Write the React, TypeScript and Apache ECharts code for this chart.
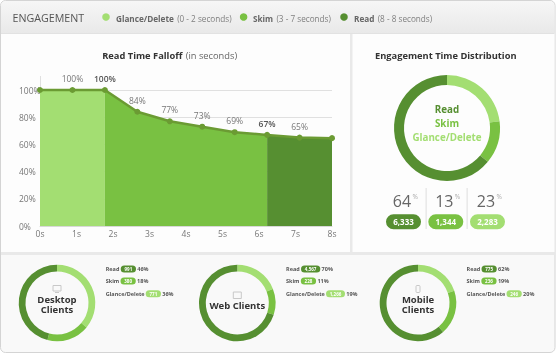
import React, { useEffect, useRef } from "react";
import * as echarts from "echarts";

const LIGHT = "#a3de72";
const MID = "#79c142";
const DARK = "#568f31";
const FONT = "'Open Sans', sans-serif";

const pointSlots = ["p0", "p1", "p2", "p3", "p4", "p5", "p6", "p7", "p8", "p9"];
const falloffValues = [100, 100, 100, 84, 77, 73, 69, 67, 65, 64.6];
const falloffLabels = ["", "100%", "100%", "84%", "77%", "73%", "69%", "67%", "65%", ""];
const boldLabelIndexes = [2, 7];
const secondLabels = ["0s", "1s", "2s", "3s", "4s", "5s", "6s", "7s", "8s"];
const yTicks = [0, 20, 40, 60, 80, 100];

const legendNames = ["Glance/Delete", "Skim", "Read"];
const legendRanges = ["(0 - 2 seconds)", "(3 - 7 seconds)", "(8 - 8 seconds)"];

const totalShares = [23, 13, 64];
const statPercents = ["64", "13", "23"];
const statCounts = ["6,333", "1,344", "2,283"];

const clientNames = ["Desktop\nClients", "Web Clients", "Mobile\nClients"];
const desktopShares = [36, 18, 46];
const webShares = [19, 11, 70];
const mobileShares = [20, 19, 62];
const desktopCounts = ["991", "380", "771"];
const webCounts = ["4,567", "228", "1,266"];
const mobileCounts = ["775", "236", "246"];
const desktopPct = ["46%", "18%", "36%"];
const webPct = ["70%", "11%", "19%"];
const mobilePct = ["62%", "19%", "20%"];
const rowNames = ["Read", "Skim", "Glance/Delete"];

const txt = (text: string, x: number, y: number, size: number, fill: string, weight: any = 400, align = "left", lineHeight?: number) => ({
  type: "text",
  x,
  y,
  z: 5,
  silent: true,
  style: { text, x: 0, y: 0, fontFamily: FONT, fontSize: size, fontWeight: weight, fill, align, verticalAlign: "middle", lineHeight },
});
const box = (x: number, y: number, width: number, height: number, fill: string, r: any = 0, z = -5, stroke?: string) => ({
  type: "rect",
  z,
  silent: true,
  shape: { x, y, width, height, r },
  style: { fill, stroke, lineWidth: stroke ? 1 : 0 },
});
const pill = (x: number, y: number, w: number, h: number, fill: string, label: string, size: number) => [
  box(x, y, w, h, fill, h / 2, 4),
  txt(label, x + w / 2, y + h / 2, size, "#ffffff", 700, "center"),
];
const donut = (center: number[], radius: string[] | number[], shares: number[]) => ({
  type: "pie",
  silent: true,
  center,
  radius,
  startAngle: 90,
  clockwise: true,
  label: { show: false },
  labelLine: { show: false },
  data: shares.map((value, i) => ({ value, itemStyle: { color: [LIGHT, MID, DARK][i] } })),
});
const region = (from: number, to: number, color: string) => ({
  type: "line",
  silent: true,
  symbol: "none",
  lineStyle: { width: 0 },
  areaStyle: { color, opacity: 1 },
  z: 2,
  data: falloffValues.map((v, i) => (i >= from && i <= to ? v : null)),
});

export default function App() {
  const ref = useRef<HTMLDivElement>(null);
  useEffect(() => {
    const chart = echarts.init(ref.current!, undefined, { renderer: "svg" });
    const g: any[] = [];
    // panels
    g.push(box(0, 0, 556, 353, "#ffffff", 0, -10));
    g.push(box(0.5, 0.5, 554.5, 352, "#f9f9f9", 5, -9, "#d4d4d4"));
    g.push({
      type: "rect", z: -8, silent: true,
      shape: { x: 1, y: 1, width: 553.5, height: 32, r: [5, 5, 0, 0] },
      style: { fill: new echarts.graphic.LinearGradient(0, 0, 0, 1, [{ offset: 0, color: "#f6f6f6" }, { offset: 1, color: "#e9e9e9" }]) },
    });
    g.push(box(1, 33, 553.5, 219, "#fdfdfd", 0, -8));
    g.push(box(350, 33, 2.5, 219, "#e9e9e9", 0, -7));
    g.push(box(1, 33, 553.5, 1, "#e2e2e2", 0, -7));
    g.push(box(1, 252, 553.5, 3, "#e9e9e9", 0, -7));

    // header legend
    g.push(txt("ENGAGEMENT", 12.5, 18, 10.7, "#555555"));
    const legendDotX = [106, 243.6, 344];
    const legendNameX = [116, 253, 354];
    legendNames.forEach((name, i) => {
      const color = [LIGHT, MID, DARK][i];
      g.push({ type: "circle", z: 5, silent: true, shape: { cx: legendDotX[i], cy: 17, r: 3.8 }, style: { fill: color } });
      g.push({
        type: "text", x: legendNameX[i], y: 18, z: 5, silent: true,
        style: {
          text: `{a|${name}} {b|${legendRanges[i]}}`,
          verticalAlign: "middle",
          rich: {
            a: { fontFamily: FONT, fontSize: 8.2, fontWeight: 700, fill: "#666666" },
            b: { fontFamily: FONT, fontSize: 8.2, fill: "#808080" },
          },
        },
      });
    });

    // titles
    g.push({
      type: "text", x: 169.7, y: 55.5, z: 5, silent: true,
      style: {
        text: "{a|Read Time Falloff} {b|(in seconds)}",
        align: "center", verticalAlign: "middle",
        rich: {
          a: { fontFamily: FONT, fontSize: 9.3, fontWeight: 700, fill: "#333333" },
          b: { fontFamily: FONT, fontSize: 9.3, fill: "#666666" },
        },
      },
    });
    g.push(txt("Engagement Time Distribution", 445.8, 55.5, 9.3, "#333333", 700, "center"));

    // main donut centre text
    g.push(txt("Read", 447, 109.7, 9.8, DARK, 700, "center"));
    g.push(txt("Skim", 447, 123.7, 9.8, MID, 700, "center"));
    g.push(txt("Glance/Delete", 447, 137.3, 9.8, LIGHT, 700, "center"));

    // stats
    const statX = [386, 428.3, 470];
    const statFill = [DARK, MID, LIGHT];
    const statSepX = [425.7, 466.7];
    statSepX.forEach((x) => g.push(box(x, 188, 0.8, 41, "#d8d8d8", 0, 3)));
    statPercents.forEach((p, i) => {
      const cx = statX[i] + 17.5;
      g.push(txt(p, cx - 1.5, 200.5, 16, "#666666", 400, "center"));
      g.push(txt("%", cx + 9, 196, 6.5, "#aaaaaa", 400, "left"));
      g.push(...pill(statX[i], 214.3, 35, 15, statFill[i], statCounts[i], 8));
    });

    // client blocks
    const clientCx = [57, 237.3, 418];
    const clientTextY = [304, 305.7, 304];
    const rowX = [105.7, 286, 466.5];
    const rowY = [269, 281, 293.7];
    const counts = [desktopCounts, webCounts, mobileCounts];
    const pcts = [desktopPct, webPct, mobilePct];
    const rowFill = [DARK, MID, LIGHT];
    const labelW = [15, 14.8, 40];
    const pillW = [[15.3, 15.3, 15.3], [19.3, 15.3, 19], [15.3, 15.3, 15.3]];
    clientNames.forEach((name, c) => {
      const cx = clientCx[c];
      g.push(txt(name, cx, clientTextY[c], 9.5, "#333333", 700, "center", 10));
      const icon = { fill: "transparent", stroke: "#c8c8c8", lineWidth: 1 };
      if (c === 0) {
        g.push({ type: "rect", z: 5, silent: true, shape: { x: cx - 4, y: 285.5, width: 8, height: 5.5 }, style: icon });
        g.push({ type: "line", z: 5, silent: true, shape: { x1: cx - 2, y1: 292.5, x2: cx + 2, y2: 292.5 }, style: icon });
      } else if (c === 1) {
        g.push({ type: "rect", z: 5, silent: true, shape: { x: cx - 4, y: 292, width: 8, height: 6.5 }, style: icon });
      } else {
        g.push({ type: "rect", z: 5, silent: true, shape: { x: cx - 2, y: 285.5, width: 4, height: 7, r: 1 }, style: icon });
      }
      rowNames.forEach((row, r) => {
        const x0 = rowX[c];
        const w = pillW[c][r];
        g.push(txt(row, x0, rowY[r], 5.5, "#555555", 700));
        const px = x0 + labelW[r];
        g.push(...pill(px, rowY[r] - 3.5, w, 7, rowFill[r], counts[c][r], 4.5));
        g.push(txt(pcts[c][r], px + w + 1.3, rowY[r], 5.5, "#555555", 700));
      });
    });

    chart.setOption({
      animation: false,
      grid: { left: 40, right: 224, top: 76.4, height: 149.6, containLabel: false },
      xAxis: [
        { type: "category", data: pointSlots, boundaryGap: false, axisLabel: { show: false }, axisTick: { show: false }, axisLine: { show: false }, splitLine: { show: false } },
        {
          type: "category", position: "bottom", data: secondLabels, boundaryGap: false,
          axisTick: { show: false }, splitLine: { show: false },
          axisLine: { show: true, lineStyle: { color: "#d8d8d8" } },
          axisLabel: { show: true, interval: 0, fontFamily: FONT, fontSize: 8.5, color: "#777777", margin: 3 },
        },
      ],
      yAxis: {
        type: "value", min: 0, max: 110, interval: 20,
        axisLine: { show: true, lineStyle: { color: "#e0e0e0" } },
        axisTick: { show: false },
        splitLine: { show: true, showMaxLine: false, lineStyle: { color: "#e0e0e0" } },
        axisLabel: {
          margin: 21, align: "left", fontFamily: FONT, fontSize: 8.5, color: "#777777",
          showMaxLabel: false,
          formatter: (v: number) => (yTicks.includes(v) ? `${v}%` : ""),
        },
      },
      graphic: { elements: g },
      series: [
        region(0, 2, LIGHT),
        region(2, 7, MID),
        region(7, 9, DARK),
        {
          type: "line", silent: true, z: 3, symbol: "circle", symbolSize: 6,
          lineStyle: { color: "#6b9b33", width: 2.5 },
          itemStyle: { color: "#6b9b33" },
          data: falloffValues.map((value, i) => ({
            value,
            label: {
              show: falloffLabels[i] !== "",
              formatter: falloffLabels[i],
              position: "top",
              distance: 4,
              fontFamily: FONT,
              fontSize: 8.5,
              color: boldLabelIndexes.includes(i) ? "#555555" : "#777777",
              fontWeight: boldLabelIndexes.includes(i) ? 600 : 400,
            },
          })),
        },
        donut([447, 128], [43, 53], totalShares),
        donut([clientCx[0], 303], [31.5, 38.3], desktopShares),
        donut([clientCx[1], 303], [31.5, 38.3], webShares),
        donut([clientCx[2], 303], [31.5, 38.3], mobileShares),
      ],
    });
    return () => chart.dispose();
  }, []);
  return <div ref={ref} style={{ position: "fixed", left: 0, top: 0, width: 556, height: 353 }} />;
}
